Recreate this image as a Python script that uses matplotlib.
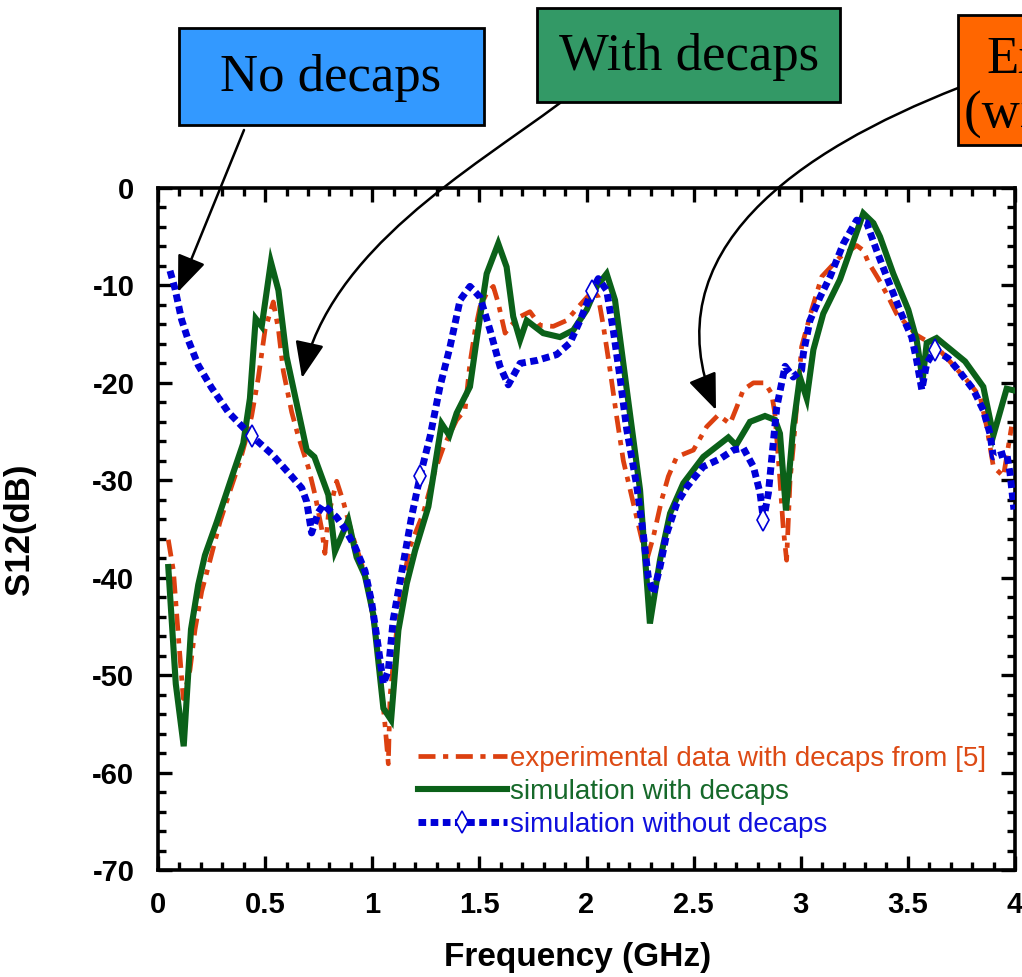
import numpy as np
import matplotlib
matplotlib.use("Agg")
import matplotlib.pyplot as plt
from matplotlib.patches import Rectangle, FancyArrowPatch
from matplotlib.path import Path
from matplotlib.lines import Line2D
from matplotlib.ticker import MultipleLocator

plt.rcParams['font.family'] = ['Liberation Sans', 'DejaVu Sans']
plt.rcParams['axes.unicode_minus'] = False

# ---------------- data ----------------
exp_f = [0.048, 0.072, 0.095, 0.118, 0.149, 0.173, 0.204, 0.243, 0.289, 0.336, 0.383, 0.414,
         0.437, 0.468, 0.50, 0.538, 0.562, 0.585, 0.624, 0.655, 0.702, 0.733, 0.764, 0.779,
         0.795, 0.834, 0.865, 0.904, 0.951, 0.99, 1.028, 1.06, 1.075, 1.083, 1.098, 1.13,
         1.176, 1.238, 1.293, 1.332, 1.394, 1.433, 1.456, 1.48, 1.503, 1.534, 1.565, 1.588,
         1.62, 1.643, 1.69, 1.736, 1.783, 1.845, 1.907, 1.97, 2.032, 2.055, 2.079, 2.11,
         2.141, 2.172, 2.219, 2.281, 2.312, 2.351, 2.382, 2.421, 2.499, 2.561, 2.615, 2.67,
         2.701, 2.732, 2.779, 2.833, 2.864, 2.879, 2.903, 2.918, 2.934, 2.95, 2.965, 3.004,
         3.051, 3.098, 3.183, 3.261, 3.292, 3.315, 3.362, 3.409, 3.447, 3.541, 3.634, 3.774,
         3.837, 3.868, 3.899, 3.946, 3.984]
exp_db = [-36.1, -39.3, -46.0, -52.4, -49.5, -45.3, -41.4, -38.2, -34.3, -31.1, -28.0, -25.5,
          -23.4, -19.5, -14.5, -11.7, -14.5, -18.8, -23.0, -25.5, -28.7, -31.5, -35.0, -37.5,
          -33.6, -30.1, -32.2, -35.4, -38.6, -42.1, -47.8, -55.2, -59.1, -52.2, -48.8, -42.0,
          -36.8, -33.4, -29.0, -26.6, -23.8, -22.8, -18.0, -14.6, -12.2, -10.8, -10.1, -11.8,
          -14.9, -14.2, -13.2, -12.7, -14.1, -14.2, -13.6, -12.0, -10.5, -11.2, -14.2, -18.7,
          -23.5, -28.0, -32.4, -38.2, -35.8, -32.0, -29.6, -27.6, -26.9, -24.5, -23.3, -24.2,
          -22.5, -20.7, -20.0, -20.0, -21.1, -23.1, -30.0, -34.8, -38.2, -30.0, -26.6, -16.3,
          -12.5, -9.1, -7.1, -5.9, -6.4, -7.6, -9.3, -11.2, -12.9, -15.1, -16.3, -19.7,
          -21.4, -24.5, -28.6, -29.6, -24.5]

sim_f = [0.048, 0.083, 0.12, 0.154, 0.188, 0.219, 0.274, 0.344, 0.398, 0.429, 0.456, 0.484,
         0.527, 0.562, 0.60, 0.694, 0.73, 0.795, 0.826, 0.888, 0.927, 0.966, 1.005, 1.052,
         1.088, 1.122, 1.161, 1.20, 1.262, 1.324, 1.36, 1.394, 1.456, 1.487, 1.534, 1.588,
         1.627, 1.658, 1.69, 1.721, 1.798, 1.876, 1.938, 2.001, 2.048, 2.094, 2.133, 2.188,
         2.25, 2.296, 2.343, 2.39, 2.452, 2.545, 2.662, 2.698, 2.763, 2.833, 2.88, 2.903,
         2.931, 2.965, 2.996, 3.028, 3.059, 3.105, 3.183, 3.292, 3.339, 3.37, 3.432, 3.502,
         3.541, 3.569, 3.588, 3.634, 3.767, 3.852, 3.899, 3.961, 4.0]
sim_db = [-38.9, -50.9, -57.3, -45.3, -40.7, -37.7, -34.3, -29.7, -26.2, -21.6, -13.4, -14.2,
          -7.6, -10.5, -17.3, -26.9, -27.6, -31.5, -37.3, -34.1, -37.9, -39.8, -43.8, -53.4,
          -54.6, -45.4, -40.6, -37.2, -32.7, -24.2, -25.4, -23.1, -20.4, -15.6, -8.8, -5.7,
          -8.1, -13.2, -15.6, -13.6, -14.9, -15.3, -14.6, -12.5, -10.1, -8.8, -11.5, -20.7,
          -31.0, -44.7, -38.2, -33.4, -30.3, -27.6, -25.6, -26.4, -24.0, -23.4, -23.8, -25.2,
          -33.1, -24.5, -19.4, -21.6, -16.6, -12.9, -9.4, -2.6, -3.6, -5.0, -8.8, -12.5,
          -15.6, -19.7, -15.9, -15.4, -17.8, -20.4, -25.4, -20.6, -20.8]

nodc_f = [0.056, 0.079, 0.11, 0.141, 0.188, 0.25, 0.328, 0.398, 0.44, 0.531, 0.624, 0.671,
          0.694, 0.717, 0.748, 0.772, 0.834, 0.873, 0.919, 0.966, 0.997, 1.028, 1.052, 1.075,
          1.098, 1.145, 1.184, 1.223, 1.27, 1.316, 1.363, 1.41, 1.456, 1.503, 1.55, 1.596,
          1.635, 1.69, 1.768, 1.861, 1.923, 1.97, 2.024, 2.055, 2.094, 2.125, 2.156, 2.188,
          2.234, 2.265, 2.288, 2.312, 2.343, 2.374, 2.421, 2.468, 2.545, 2.623, 2.685, 2.732,
          2.779, 2.81, 2.826, 2.849, 2.864, 2.888, 2.911, 2.927, 2.965, 3.004, 3.012, 3.043,
          3.09, 3.137, 3.199, 3.261, 3.308, 3.354, 3.401, 3.471, 3.518, 3.541, 3.565, 3.588,
          3.627, 3.689, 3.743, 3.806, 3.852, 3.883, 3.899, 3.961, 3.977, 3.995]
nodc_db = [-8.5, -10.3, -13.5, -15.6, -18.2, -20.5, -23.0, -24.6, -25.5, -27.3, -29.6, -30.8,
           -32.2, -35.4, -33.3, -32.5, -33.8, -35.0, -36.8, -39.3, -42.5, -47.1, -50.9, -49.5,
           -44.3, -38.5, -33.7, -29.6, -25.5, -20.4, -16.3, -11.5, -10.1, -11.2, -14.6, -18.3,
           -20.2, -18.0, -17.7, -17.1, -15.9, -13.6, -10.6, -9.3, -10.5, -14.6, -19.4, -24.8,
           -30.5, -35.5, -39.9, -41.6, -38.9, -35.5, -32.4, -30.7, -28.6, -27.8, -26.9, -26.7,
           -28.6, -31.3, -34.1, -31.3, -27.9, -22.5, -20.0, -18.3, -19.4, -18.7, -17.0, -13.6,
           -11.2, -9.1, -5.7, -3.3, -3.6, -6.4, -9.1, -13.0, -15.3, -17.7, -20.7, -18.0,
           -16.6, -17.5, -18.9, -20.7, -22.8, -25.2, -27.6, -27.2, -29.3, -33.0]
nodc_marker_f = [0.44, 1.223, 2.024, 2.826, 3.627]

x_ticks = [0, 0.5, 1, 1.5, 2, 2.5, 3, 3.5, 4]
x_tick_labels = ['0', '0.5', '1', '1.5', '2', '2.5', '3', '3.5', '4']
y_ticks = [0, -10, -20, -30, -40, -50, -60, -70]

legend_labels = ['experimental data with decaps from [5]', 'simulation with decaps',
                 'simulation without decaps']
box_labels = ['No decaps', 'With decaps']
box3_lines = ['Experiment', '(with decaps)']

# ---------------- styling ----------------
C_EXP = '#DC4010'
C_SIM = '#0B6119'
C_NODC = '#0000D8'
C_EXP_TXT = '#DD4A14'
C_SIM_TXT = '#16692A'
C_NODC_TXT = '#1010DD'

W, H = 1022, 977
fig = plt.figure(figsize=(W / 100, H / 100), dpi=100)
ax = fig.add_axes([158 / W, 1 - 870 / H, (1015 - 158) / W, (870 - 188) / H])

exp_style = dict(color=C_EXP, lw=3.4, dashes=(3.6, 1.6, 1.1, 1.6), dash_capstyle='butt')
sim_style = dict(color=C_SIM, lw=4.4, solid_joinstyle='miter')
nodc_style = dict(color=C_NODC, lw=5.0, dashes=(1.1, 0.65), dash_capstyle='butt')

ax.plot(exp_f, exp_db, **exp_style, zorder=2)
ax.plot(sim_f, sim_db, **sim_style, zorder=3)
mk_idx = [int(np.argmin(np.abs(np.array(nodc_f) - m))) for m in nodc_marker_f]
ax.plot(nodc_f, nodc_db, **nodc_style, marker='d', markersize=11, mfc='white',
        mec=C_NODC, mew=1.2, markevery=mk_idx, zorder=4)

ax.set_xlim(0, 4)
ax.set_ylim(-70, 0)
ax.set_xticks(x_ticks)
ax.set_xticklabels(x_tick_labels)
ax.set_yticks(y_ticks)
ax.xaxis.set_minor_locator(MultipleLocator(0.1))
ax.yaxis.set_minor_locator(MultipleLocator(2))
ax.tick_params(which='both', direction='in', top=True, right=True, width=2.4)
ax.tick_params(which='major', length=10)
ax.tick_params(which='minor', length=5.5)
ax.tick_params(axis='x', which='major', pad=15, labelsize=21)
ax.tick_params(axis='y', which='major', pad=17, labelsize=21)
for lab in ax.get_xticklabels() + ax.get_yticklabels():
    lab.set_fontweight('bold')
for sp in ax.spines.values():
    sp.set_linewidth(2.6)

ax.set_xlabel('Frequency (GHz)', fontsize=24, fontweight='bold')
ax.set_ylabel('S12(dB)', fontsize=25, fontweight='bold')
ax.xaxis.set_label_coords(0.49, -0.105)
ax.yaxis.set_label_coords(-0.142, 0.5)

handles = [Line2D([], [], **exp_style),
           Line2D([], [], **sim_style),
           Line2D([], [], **nodc_style, marker='d', markersize=11, mfc='white', mec=C_NODC, mew=1.2)]
leg = ax.legend(handles, legend_labels, loc='center left',
                bbox_to_anchor=((418 - 158) / 857, (870 - 792) / 682),
                frameon=False, fontsize=20, handlelength=3.2, handletextpad=0.12,
                labelspacing=0.25, borderpad=0, borderaxespad=0, numpoints=1)
for t, c in zip(leg.get_texts(), [C_EXP_TXT, C_SIM_TXT, C_NODC_TXT]):
    t.set_color(c)


def fx(x):
    return x / W


def fy(y):
    return 1 - y / H


# annotation boxes
def box(x0, y0, x1, y1, color):
    r = Rectangle((fx(x0), fy(y1)), (x1 - x0) / W, (y1 - y0) / H, transform=fig.transFigure,
                  facecolor=color, edgecolor='black', lw=2.0, zorder=5)
    fig.add_artist(r)


box(179, 28, 484, 125, '#3399FF')
box(537, 8, 840, 102, '#339966')
box(958, 15, 1030, 145, '#FF6600')
fig.text(fx(331), fy(78), box_labels[0], family='Liberation Serif', fontsize=38,
         ha='center', va='center', zorder=6)
fig.text(fx(689), fy(57), box_labels[1], family='Liberation Serif', fontsize=38,
         ha='center', va='center', zorder=6)
fig.text(fx(986), fy(60), box3_lines[0], family='Liberation Serif', fontsize=38,
         ha='left', va='center', zorder=6)
fig.text(fx(964), fy(114), box3_lines[1], family='Liberation Serif', fontsize=38,
         ha='left', va='center', zorder=6)

# arrows
astyle = '-|>,head_length=0.75,head_width=0.3'


def arrow(points, codes):
    p = Path([(fx(x), fy(y)) for x, y in points], codes)
    a = FancyArrowPatch(path=p, arrowstyle=astyle, mutation_scale=30, color='black',
                        lw=1.8, transform=fig.transFigure, zorder=6)
    fig.add_artist(a)


arrow([(244, 130), (178, 292)], [Path.MOVETO, Path.LINETO])
arrow([(560, 103), (470, 170), (330, 250), (302, 378)],
      [Path.MOVETO, Path.CURVE4, Path.CURVE4, Path.CURVE4])
arrow([(958, 88), (800, 150), (650, 250), (716, 410)],
      [Path.MOVETO, Path.CURVE4, Path.CURVE4, Path.CURVE4])

fig.savefig('out.png', dpi=100)
